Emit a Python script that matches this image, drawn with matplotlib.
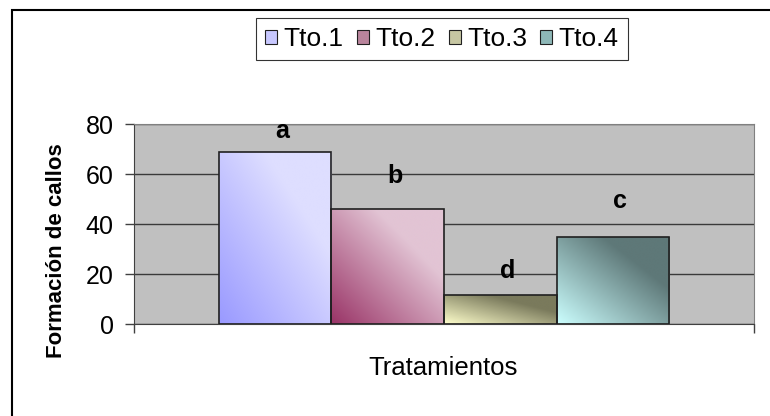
import numpy as np
import matplotlib
matplotlib.use('Agg')
import matplotlib.pyplot as plt
from matplotlib import font_manager
from matplotlib.colors import to_rgb
from matplotlib.patches import Patch, Rectangle

plt.rcParams['font.family'] = ['Liberation Sans', 'DejaVu Sans']

# data
treatments = ['Tto.1', 'Tto.2', 'Tto.3', 'Tto.4']
callos = [69, 46, 11.6, 35]
letters = ['a', 'b', 'd', 'c']
letter_y = [72.5, 54.5, 16.5, 44.5]
y_ticks = [0, 20, 40, 60, 80]

# gradient ends: bottom-left colour -> top-right colour
grad_start = ['#9999FF', '#993366', '#FFFFCC', '#CCFFFF']
grad_end = ['#DEDEFF', '#E2C4D4', '#7A7A5C', '#5E7878']
legend_cols = ['#C8C8FF', '#B9849C', '#C6C6A2', '#8EB8B8']

names = [f.name for f in font_manager.fontManager.ttflist]
narrow = 'Liberation Sans Narrow' if 'Liberation Sans Narrow' in names else None

fig = plt.figure(figsize=(7.7, 4.16), dpi=100)
ax = fig.add_axes([134/770, 1-324/416, 620/770, 200/416])
ax.set_facecolor('#C0C0C0')

group = 0.726
w = group / len(treatments)
xs = [(i - 1.5) * w for i in range(len(treatments))]
bars = ax.bar(xs, callos, width=w, color='none', edgecolor='#202020',
              linewidth=1.2, zorder=3)

# diagonal gradient fill, clipped to each bar
n = 200
u, v = np.meshgrid(np.linspace(0, 1, n), np.linspace(1, 0, n))
t = np.clip((u + v) / 1.4, 0, 1)
for b, c0, c1 in zip(bars, grad_start, grad_end):
    c0 = np.array(to_rgb(c0)); c1 = np.array(to_rgb(c1))
    img = c0[None, None, :] * (1 - t[..., None]) + c1[None, None, :] * t[..., None]
    x0 = b.get_x(); h = b.get_height()
    im = ax.imshow(img, extent=(x0, x0 + b.get_width(), 0, h),
                   aspect='auto', zorder=2, interpolation='bilinear')
    im.set_clip_path(b)

for x, ly, lt in zip(xs, letter_y, letters):
    ax.text(x + 0.012, ly, lt, ha='center', va='bottom', fontsize=18,
            fontweight='bold', zorder=4)

ax.set_xlim(-0.5, 0.5)
ax.set_ylim(0, 80)
ax.set_yticks(y_ticks)
ax.tick_params(axis='y', labelsize=18, length=6.5, width=1, color='#404040', pad=8)
ax.set_xticks([-0.5, 0.5])
ax.set_xticklabels([])
ax.tick_params(axis='x', length=6.5, width=1, color='#404040')
ax.grid(axis='y', color='#3a3a3a', linewidth=1, zorder=1)
ax.set_axisbelow(True)
for s in ['top', 'right']:
    ax.spines[s].set_color('#808080')
for s in ['left', 'bottom']:
    ax.spines[s].set_color('#404040')

fig.text(443/770, 1-368/416, 'Tratamientos', ha='center', va='center', fontsize=18.5)
if narrow:
    fig.text(57/770, 1-251/416, 'Formación de callos', rotation=90, ha='center',
             va='center', fontsize=20, fontweight='bold', family=[narrow, 'DejaVu Sans'])
else:
    fig.text(57/770, 1-251/416, 'Formación de callos', rotation=90, ha='center',
             va='center', fontsize=16, fontweight='bold')

handles = [Patch(facecolor=c, edgecolor='#202020', linewidth=0.8) for c in legend_cols]
leg = fig.legend(handles, treatments, loc='upper center', ncol=4,
                 bbox_to_anchor=(442/770, 1-18/416), borderaxespad=0, fontsize=19,
                 handlelength=0.45, handleheight=0.45, handletextpad=0.25,
                 columnspacing=0.5, borderpad=0.35, fancybox=False,
                 frameon=True, edgecolor='#000000')
leg.get_frame().set_linewidth(0.8)

# chart-area border (cropped on right/bottom in the reference)
fig.add_artist(Rectangle((12/770, -0.2), 1.2, 1.2 - 10/416,
                         transform=fig.transFigure, fill=False,
                         edgecolor='#000000', linewidth=1.5))

fig.savefig('out.png', dpi=100)
